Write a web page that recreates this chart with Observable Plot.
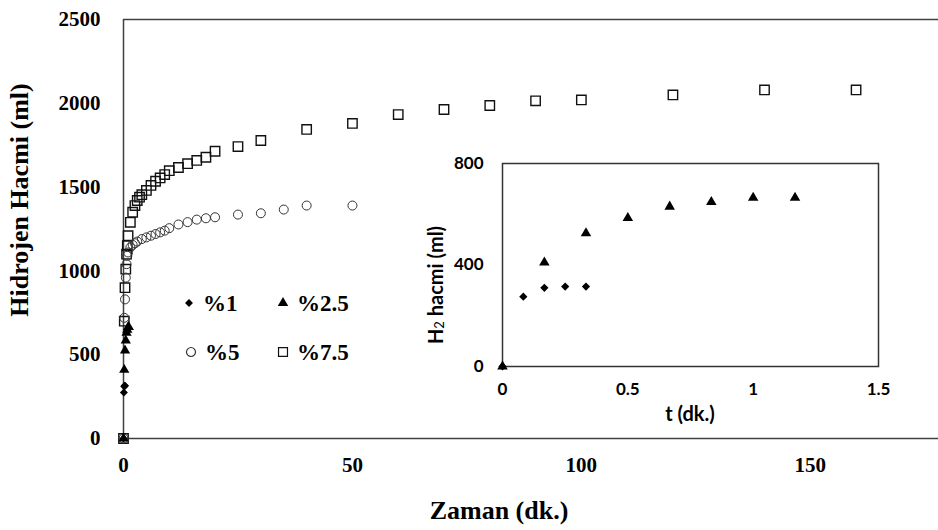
<!DOCTYPE html>
<html><head><meta charset="utf-8">
<script src="https://cdn.jsdelivr.net/npm/d3@7"></script>
<script src="https://cdn.jsdelivr.net/npm/@observablehq/plot@0.6"></script>
<style>
body{margin:0;background:#fff;}
#chart{position:relative;width:938px;height:530px;overflow:hidden;background:#fff;}
#chart svg{position:absolute;}
</style></head><body><div id="chart"></div>
<script>
// %1 series (time in min, volume in ml)
const t1=[0,0.083,0.167,0.25,0.333];
const v1=[0,275,310,315,315];
// %2.5 series
const t25=[0,0.167,0.333,0.5,0.667,0.833,1,1.167];
const v25=[0,410,525,585,630,648,665,665];
// %5 series
const t5=[0,0.17,0.33,0.5,0.67,0.83,1,1.5,2,2.5,3,4,5,6,7,8,9,10,12,14,16,18,20,25,30,35,40,50];
const v5=[0,720,830,960,1040,1090,1110,1140,1155,1165,1175,1190,1200,1210,1220,1230,1240,1255,1277,1291,1306,1314,1320,1336,1344,1366,1390,1390];
// %7.5 series
const t75=[0,0.17,0.33,0.5,0.67,0.83,1,1.5,2,2.5,3,3.5,4,5,6,7,8,9,10,12,14,16,18,20,25,30,40,50,60,70,80,90,100,120,140,160];
const v75=[0,700,900,1010,1100,1150,1210,1290,1350,1390,1420,1440,1455,1480,1510,1535,1555,1575,1598,1617,1640,1659,1678,1714,1742,1778,1844,1880,1933,1963,1987,2015,2020,2050,2080,2080];
// ticks and labels
const mainXTicks=[0,50,100,150];
const mainYTicks=[0,500,1000,1500,2000,2500];
const insetXTicks=[0,0.5,1,1.5];
const insetYTicks=[0,400,800];
const seriesNames=["%1","%2.5","%5","%7.5"];
const mainXTitle="Zaman (dk.)";
const mainYTitle="Hidrojen Hacmi (ml)";
const insetXTitle="t (dk.)";

const mk=(t,v)=>t.map((d,i)=>({t:d,v:v[i]}));
const d1=mk(t1,v1), d25=mk(t25,v25), d5=mk(t5,v5), d75=mk(t75,v75);

const axisStroke="#404040";
const serif="'Liberation Serif','Times New Roman',serif";
const sans="Lato,'Open Sans',sans-serif";

const main=Plot.plot({
  width:938,height:530,marginLeft:123,marginTop:19,marginBottom:92,marginRight:0,
  style:{fontFamily:serif,fontSize:"21px",fontWeight:"bold",color:"#000",background:"none"},
  x:{domain:[0,178]},
  y:{domain:[0,2500]},
  marks:[
    Plot.ruleY([2500],{stroke:axisStroke,strokeWidth:1.5}),
    Plot.ruleX([0],{stroke:axisStroke,strokeWidth:1.5}),
    Plot.ruleY([0],{stroke:axisStroke,strokeWidth:1.5}),
    Plot.axisX({ticks:mainXTicks,tickSize:0,tickPadding:19,label:null,tickFormat:d=>String(d),fill:"#000"}),
    Plot.axisY({ticks:mainYTicks,tickSize:0,tickPadding:23,label:null,tickFormat:d=>String(d),fill:"#000"}),
    Plot.dot(d75,{x:"t",y:"v",symbol:"square",r:5.3,fill:"none",stroke:"#111",strokeWidth:1.4}),
    Plot.dot(d5,{x:"t",y:"v",symbol:"circle",r:4.5,fill:"none",stroke:"#333",strokeWidth:1}),
    Plot.dot(d25,{x:"t",y:"v",symbol:"triangle",r:3.8,fill:"#000",stroke:"none"}),
    Plot.dot(d1,{x:"t",y:"v",symbol:"diamond2",r:3.6,fill:"#000",stroke:"none"})
  ]
});
document.getElementById("chart").appendChild(main);
main.style.left="0px";main.style.top="0px";

const ms=d3.select(main);
// axis titles
ms.append("text").attr("x",499).attr("y",510).attr("text-anchor","middle").attr("dominant-baseline","central")
  .attr("font-family",serif).attr("font-weight","bold").attr("font-size",26).text(mainXTitle);
ms.append("text").attr("transform","translate(19,200) rotate(-90)").attr("text-anchor","middle").attr("dominant-baseline","central")
  .attr("font-family",serif).attr("font-weight","bold").attr("font-size",26).text(mainYTitle);

// legend
const legend=[
  {sym:d3.symbolDiamond2,size:40,fill:"#000",stroke:"none",x:189,y:303},
  {sym:d3.symbolTriangle,size:48,fill:"#000",stroke:"none",x:283,y:303},
  {sym:d3.symbolCircle,size:64,fill:"none",stroke:"#333",x:191,y:352},
  {sym:d3.symbolSquare,size:80,fill:"none",stroke:"#111",x:283,y:352}
];
const lg=ms.append("g");
legend.forEach((l,i)=>{
  lg.append("path").attr("d",d3.symbol(l.sym,l.size)()).attr("transform",`translate(${l.x},${l.y})`)
    .attr("fill",l.fill).attr("stroke",l.stroke).attr("stroke-width",1.2);
  lg.append("text").attr("x",l.x+14).attr("y",l.y).attr("dominant-baseline","central").attr("text-anchor","start")
    .attr("font-family",serif).attr("font-weight","bold").attr("font-size",23).attr("fill","#000").text(seriesNames[i]);
});

// inset
const inset=Plot.plot({
  width:480,height:285,marginLeft:82,marginRight:22,marginTop:18,marginBottom:64,
  style:{fontFamily:sans,fontSize:"17px",fontWeight:"bold",color:"#000",background:"none"},
  x:{domain:[0,1.5]},
  y:{domain:[0,800]},
  marks:[
    Plot.frame({stroke:"#333",strokeWidth:1.5}),
    Plot.axisX({ticks:insetXTicks,tickSize:0,tickPadding:16,label:null,tickFormat:d=>String(d),fill:"#000"}),
    Plot.axisY({ticks:insetYTicks,tickSize:0,tickPadding:19,label:null,tickFormat:d=>String(d),fill:"#000"}),
    Plot.dot(d25,{x:"t",y:"v",symbol:"triangle",r:3.9,fill:"#000",stroke:"none"}),
    Plot.dot(d1,{x:"t",y:"v",symbol:"diamond2",r:3.7,fill:"#000",stroke:"none"})
  ]
});
document.getElementById("chart").appendChild(inset);
inset.style.left="420px";inset.style.top="145px";
const is=d3.select(inset);
is.append("text").attr("x",270).attr("y",268).attr("text-anchor","middle").attr("dominant-baseline","central")
  .attr("font-family",sans).attr("font-weight","bold").attr("font-size",20).text(insetXTitle);
const yl=is.append("text").attr("transform","translate(15,140) rotate(-90)").attr("text-anchor","middle").attr("dominant-baseline","central")
  .attr("font-family",sans).attr("font-weight","bold").attr("font-size",20);
yl.append("tspan").text("H");
yl.append("tspan").attr("font-size",13).attr("font-weight","normal").attr("dy",4).text("2");
yl.append("tspan").attr("dy",-4).text(" hacmi (ml)");
</script></body></html>
